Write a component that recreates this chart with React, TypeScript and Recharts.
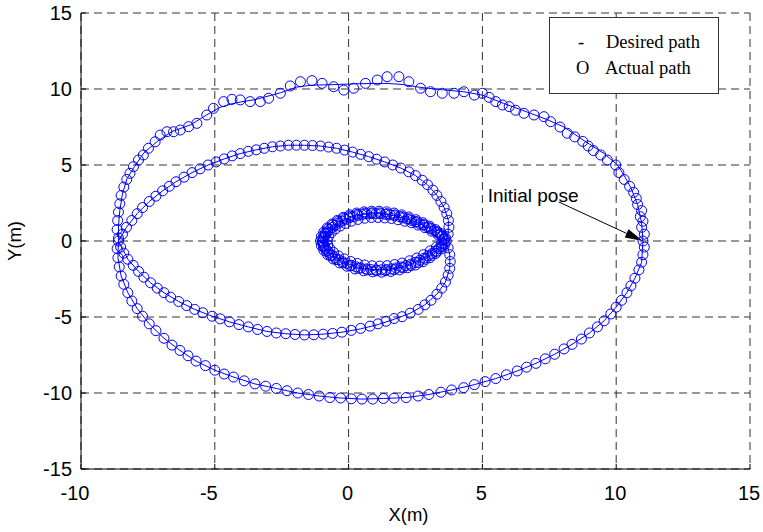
import { CartesianGrid, Legend, ReferenceLine, Scatter, ScatterChart, XAxis, YAxis } from "recharts";

type Pt = [number, number];

const xTicks = [-10, -5, 0, 5, 10, 15];
const yTicks = [-15, -10, -5, 0, 5, 10, 15];

// reference trajectory, one continuous pass: outer arc over the top, middle lobe,
// small inner loop, back along the middle lobe and the outer arc underneath
const desiredOuterTop: Pt[] = [
  [11, 0], [10.95, 1.2], [10.8, 2.4], [10.55, 3.5], [10.3, 4.3], [10.05, 5.0], [9.55, 5.75], [8.8, 6.6],
  [8.05, 7.5], [7.4, 8.0], [6.8, 8.4], [5.8, 9.05], [5.0, 9.6], [4.3, 9.82], [3.5, 9.95], [2.7, 10.1],
  [2.0, 10.3], [1.4, 10.37], [0.4, 10.35], [-0.7, 10.28], [-1.4, 10.25], [-1.95, 10.12], [-2.55, 9.75],
  [-3.5, 9.3], [-4.2, 9.1], [-4.8, 8.8], [-5.3, 8.3], [-5.9, 7.65], [-6.6, 7.2], [-7.15, 6.55], [-7.65, 5.8],
  [-8.0, 4.9], [-8.28, 4.1], [-8.45, 3.1], [-8.55, 2.0], [-8.6, 1.0], [-8.6, 0],
];
const desiredMiddleTop: Pt[] = [
  [-8.6, 0], [-8.3, 0.9], [-7.9, 1.8], [-7.45, 2.6], [-6.95, 3.3], [-6.45, 3.9], [-5.85, 4.5], [-5.25, 5.0],
  [-4.65, 5.4], [-4.05, 5.75], [-3.45, 6.0], [-2.85, 6.2], [-2.25, 6.3], [-1.65, 6.3], [-1.05, 6.25],
  [-0.45, 6.1], [0.15, 5.85], [0.75, 5.55], [1.35, 5.2], [1.95, 4.8], [2.5, 4.3], [2.95, 3.7], [3.3, 3.0],
  [3.57, 2.2], [3.73, 1.35], [3.72, 0.45], [3.65, 0],
];
const desiredInnerLoop: Pt[] = [
  [3.65, 0], [3.42, 0.42], [3.08, 0.8], [2.65, 1.15], [2.2, 1.44], [1.72, 1.66], [1.2, 1.79], [0.68, 1.78],
  [0.17, 1.6], [-0.25, 1.31], [-0.6, 0.9], [-0.85, 0.45], [-0.96, 0], [-0.87, -0.46], [-0.62, -0.94],
  [-0.22, -1.36], [0.28, -1.7], [0.84, -1.88], [1.41, -1.88], [1.96, -1.71], [2.5, -1.4], [2.97, -0.98],
  [3.36, -0.5], [3.65, 0],
];
const desiredMiddleBottom: Pt[] = [
  [3.65, 0], [3.78, -0.9], [3.78, -1.8], [3.62, -2.7], [3.3, -3.5], [2.85, -4.2], [2.3, -4.75], [1.7, -5.15],
  [1.1, -5.5], [0.45, -5.78], [-0.25, -6.0], [-0.95, -6.13], [-1.65, -6.18], [-2.35, -6.1], [-3.05, -5.95],
  [-3.75, -5.65], [-4.45, -5.32], [-5.1, -4.95], [-5.75, -4.5], [-6.35, -3.98], [-6.9, -3.4], [-7.4, -2.75],
  [-7.85, -2.0], [-8.25, -1.2], [-8.6, 0],
];
const desiredOuterBottom: Pt[] = [
  [-8.6, 0], [-8.62, -1.1], [-8.5, -2.3], [-8.25, -3.4], [-7.9, -4.45], [-7.45, -5.45], [-6.9, -6.4],
  [-6.3, -7.2], [-5.7, -7.9], [-5.0, -8.5], [-4.3, -8.95], [-3.5, -9.4], [-2.7, -9.7], [-1.9, -10.0],
  [-1.1, -10.2], [-0.3, -10.33], [0.5, -10.4], [1.3, -10.36], [2.15, -10.3], [3.0, -10.1], [3.85, -9.8],
  [4.7, -9.45], [5.5, -9.05], [6.3, -8.55], [7.0, -8.05], [7.7, -7.45], [8.35, -6.8], [9.0, -6.05],
  [9.55, -5.25], [10.0, -4.35], [10.4, -3.4], [10.7, -2.45], [10.95, -1.4], [11, 0],
];

// measured robot positions
const actualOuterTop: Pt[] = [
  [11.0, 0.0], [11.05, 0.45], [10.95, 0.9], [11.0, 1.3], [10.9, 1.6], [10.95, 2.0], [10.8, 2.4], [10.75, 2.8],
  [10.65, 3.2], [10.5, 3.6], [10.3, 4.05], [10.1, 4.5], [9.98, 5.0], [9.67, 5.33], [9.42, 5.66], [9.15, 5.95],
  [8.95, 6.25], [8.75, 6.55], [8.45, 6.85], [8.17, 7.09], [7.9, 7.5], [7.55, 7.85], [7.3, 8.18], [6.93, 8.29],
  [6.55, 8.4], [6.24, 8.6], [6.0, 8.84], [5.75, 8.95], [5.5, 9.17], [5.25, 9.45], [5.0, 9.72], [4.7, 9.6],
  [4.31, 9.82], [3.94, 9.72], [3.5, 9.72], [3.06, 9.82], [2.69, 10.05], [2.25, 10.48], [1.88, 10.81],
  [1.44, 10.81], [1.07, 10.59], [0.63, 10.37], [0.19, 10.05], [-0.18, 9.93], [-0.56, 10.15], [-0.99, 10.37],
  [-1.37, 10.55], [-1.8, 10.48], [-2.18, 10.2], [-2.55, 9.72], [-2.99, 9.39], [-3.3, 9.17], [-3.68, 9.17],
  [-4.05, 9.28], [-4.36, 9.32], [-4.67, 9.17], [-5.05, 8.73], [-5.3, 8.29], [-5.67, 7.74], [-5.98, 7.52],
  [-6.29, 7.3], [-6.54, 7.19], [-6.79, 7.19], [-7.04, 6.97], [-7.23, 6.53], [-7.48, 6.1], [-7.67, 5.66],
  [-7.85, 5.33], [-8.04, 4.89], [-8.17, 4.45], [-8.29, 4.05], [-8.4, 3.55], [-8.5, 3.0], [-8.55, 2.45],
  [-8.6, 1.9], [-8.63, 1.35], [-8.65, 0.75], [-8.6, 0.2],
];
const actualMiddleTop: Pt[] = [
  [-8.6, 0.0], [-8.45, 0.45], [-8.3, 0.9], [-8.1, 1.35], [-7.9, 1.8], [-7.7, 2.2], [-7.45, 2.6], [-7.2, 2.95],
  [-6.95, 3.3], [-6.7, 3.6], [-6.45, 3.9], [-6.15, 4.2], [-5.85, 4.5], [-5.55, 4.75], [-5.25, 5.0],
  [-4.95, 5.2], [-4.65, 5.4], [-4.35, 5.6], [-4.05, 5.75], [-3.75, 5.9], [-3.45, 6.0], [-3.15, 6.1],
  [-2.85, 6.2], [-2.55, 6.25], [-2.25, 6.3], [-1.95, 6.3], [-1.65, 6.3], [-1.35, 6.28], [-1.05, 6.25],
  [-0.75, 6.18], [-0.45, 6.1], [-0.15, 5.98], [0.15, 5.85], [0.45, 5.7], [0.75, 5.55], [1.05, 5.38],
  [1.35, 5.2], [1.65, 5.0], [1.95, 4.8], [2.25, 4.55], [2.5, 4.3], [2.75, 4.0], [2.95, 3.7], [3.15, 3.35],
  [3.3, 3.0], [3.45, 2.6], [3.57, 2.2], [3.67, 1.8], [3.73, 1.35], [3.75, 0.9], [3.72, 0.45], [3.65, 0.0],
];
// the inner loop is run several times, so its markers pile up into a thick ring
const actualInnerLoop: Pt[] = [
  [3.58, 0.15], [3.5, 0.3], [3.42, 0.42], [3.32, 0.55], [3.2, 0.68], [3.08, 0.8], [2.95, 0.92], [2.8, 1.04],
  [2.65, 1.15], [2.5, 1.25], [2.35, 1.35], [2.2, 1.44], [2.05, 1.52], [1.9, 1.6], [1.72, 1.66], [1.55, 1.72],
  [1.38, 1.76], [1.2, 1.79], [1.02, 1.8], [0.85, 1.8], [0.68, 1.78], [0.5, 1.74], [0.33, 1.68], [0.17, 1.6],
  [0.02, 1.52], [-0.12, 1.42], [-0.25, 1.31], [-0.38, 1.18], [-0.5, 1.04], [-0.6, 0.9], [-0.7, 0.75],
  [-0.78, 0.6], [-0.85, 0.45], [-0.9, 0.3], [-0.94, 0.15], [-0.96, 0.0], [-0.95, -0.15], [-0.92, -0.3],
  [-0.87, -0.46], [-0.8, -0.62], [-0.72, -0.78], [-0.62, -0.94], [-0.5, -1.09], [-0.37, -1.23],
  [-0.22, -1.36], [-0.06, -1.48], [0.1, -1.6], [0.28, -1.7], [0.46, -1.78], [0.65, -1.84], [0.84, -1.88],
  [1.03, -1.9], [1.22, -1.9], [1.41, -1.88], [1.6, -1.84], [1.78, -1.78], [1.96, -1.71], [2.14, -1.62],
  [2.32, -1.52], [2.5, -1.4], [2.66, -1.27], [2.82, -1.13], [2.97, -0.98], [3.11, -0.83], [3.24, -0.67],
  [3.36, -0.5], [3.47, -0.33], [3.57, -0.17],
  // tighter lap
  [3.55, 0.1], [3.35, 0.4], [3.1, 0.65], [2.85, 0.88], [2.6, 1.05], [2.35, 1.2], [2.1, 1.3], [1.85, 1.4],
  [1.6, 1.48], [1.35, 1.52], [1.1, 1.55], [0.85, 1.55], [0.6, 1.5], [0.35, 1.42], [0.1, 1.3], [-0.12, 1.15],
  [-0.32, 0.98], [-0.5, 0.78], [-0.65, 0.55], [-0.75, 0.3], [-0.8, 0.05], [-0.78, -0.25], [-0.7, -0.5],
  [-0.56, -0.75], [-0.38, -0.98], [-0.16, -1.18], [0.08, -1.35], [0.33, -1.48], [0.6, -1.58], [0.88, -1.63],
  [1.16, -1.65], [1.44, -1.62], [1.72, -1.55], [2.0, -1.45], [2.28, -1.3], [2.55, -1.12], [2.8, -0.9],
  [3.05, -0.65], [3.28, -0.4], [3.48, -0.15],
  // wider lap
  [3.62, 0.2], [3.45, 0.5], [3.25, 0.75], [3.02, 0.98], [2.78, 1.2], [2.52, 1.4], [2.25, 1.58], [1.98, 1.72],
  [1.7, 1.84], [1.42, 1.92], [1.14, 1.96], [0.86, 1.96], [0.58, 1.92], [0.3, 1.84], [0.04, 1.72], [-0.2, 1.56],
  [-0.42, 1.36], [-0.62, 1.12], [-0.8, 0.86], [-0.93, 0.58], [-1.02, 0.28], [-1.05, 0.0], [-1.02, -0.3],
  [-0.93, -0.6], [-0.78, -0.9], [-0.58, -1.18], [-0.34, -1.44], [-0.06, -1.66], [0.24, -1.84], [0.56, -1.96],
  [0.9, -2.03], [1.24, -2.05], [1.58, -2.0], [1.9, -1.9], [2.2, -1.76], [2.5, -1.58], [2.78, -1.36],
  [3.04, -1.1], [3.26, -0.82], [3.46, -0.52], [3.6, -0.22],
  // in-between lap
  [3.5, 0.35], [3.3, 0.62], [3.06, 0.86], [2.8, 1.08], [2.54, 1.28], [2.27, 1.46], [2.0, 1.6], [1.72, 1.72],
  [1.44, 1.8], [1.16, 1.85], [0.88, 1.86], [0.6, 1.83], [0.32, 1.76], [0.06, 1.64], [-0.18, 1.48],
  [-0.4, 1.28], [-0.6, 1.05], [-0.76, 0.8], [-0.88, 0.52], [-0.96, 0.22], [-0.98, -0.08], [-0.94, -0.38],
  [-0.84, -0.68], [-0.68, -0.96], [-0.47, -1.22], [-0.22, -1.45], [0.06, -1.64], [0.37, -1.79], [0.7, -1.9],
  [1.04, -1.96], [1.38, -1.95], [1.71, -1.88], [2.03, -1.77], [2.33, -1.62], [2.61, -1.43], [2.87, -1.2],
  [3.1, -0.95], [3.3, -0.68], [3.47, -0.4],
];
const actualMiddleBottom: Pt[] = [
  [3.72, -0.45], [3.78, -0.9], [3.8, -1.35], [3.78, -1.8], [3.72, -2.25], [3.62, -2.7], [3.48, -3.1],
  [3.3, -3.5], [3.08, -3.9], [2.85, -4.2], [2.6, -4.5], [2.3, -4.75], [2.0, -4.98], [1.7, -5.1], [1.4, -5.28],
  [1.1, -5.45], [0.8, -5.6], [0.45, -5.75], [0.1, -5.88], [-0.25, -6.0], [-0.6, -6.08], [-0.95, -6.13],
  [-1.3, -6.17], [-1.65, -6.18], [-2.0, -6.15], [-2.35, -6.1], [-2.7, -6.05], [-3.05, -5.95], [-3.4, -5.82],
  [-3.75, -5.65], [-4.1, -5.5], [-4.45, -5.32], [-4.8, -5.12], [-5.1, -4.95], [-5.45, -4.72], [-5.75, -4.5],
  [-6.05, -4.25], [-6.35, -3.98], [-6.65, -3.7], [-6.9, -3.4], [-7.15, -3.1], [-7.4, -2.75], [-7.65, -2.38],
  [-7.85, -2.0], [-8.05, -1.6], [-8.25, -1.2], [-8.4, -0.8], [-8.52, -0.4],
];
const actualOuterBottom: Pt[] = [
  [-8.65, -0.5], [-8.62, -1.1], [-8.57, -1.7], [-8.5, -2.3], [-8.4, -2.85], [-8.25, -3.4], [-8.1, -3.95],
  [-7.9, -4.45], [-7.7, -4.95], [-7.45, -5.45], [-7.2, -5.9], [-6.9, -6.4], [-6.6, -6.85], [-6.3, -7.2],
  [-6.0, -7.55], [-5.7, -7.9], [-5.35, -8.2], [-5.0, -8.5], [-4.65, -8.75], [-4.3, -8.95], [-3.9, -9.2],
  [-3.5, -9.4], [-3.1, -9.55], [-2.7, -9.7], [-2.3, -9.85], [-1.9, -10.0], [-1.5, -10.1], [-1.1, -10.2],
  [-0.7, -10.3], [-0.3, -10.33], [0.1, -10.38], [0.5, -10.4], [0.9, -10.4], [1.3, -10.36], [1.7, -10.34],
  [2.15, -10.3], [2.6, -10.2], [3.0, -10.1], [3.45, -9.95], [3.85, -9.8], [4.3, -9.65], [4.7, -9.45],
  [5.1, -9.25], [5.5, -9.05], [5.9, -8.8], [6.3, -8.55], [6.65, -8.3], [7.0, -8.05], [7.35, -7.75],
  [7.7, -7.45], [8.05, -7.1], [8.35, -6.8], [8.7, -6.45], [9.0, -6.05], [9.3, -5.65], [9.55, -5.25],
  [9.8, -4.8], [10.0, -4.35], [10.2, -3.9], [10.4, -3.4], [10.55, -2.95], [10.7, -2.45], [10.85, -1.9],
  [10.95, -1.4], [11.0, -0.9], [11.05, -0.4],
];

// where the "Initial pose" callout starts and where its arrow points
const poseLabelAt = { x: 7.85, y: 2.57 };
const initialPose = { x: 11, y: 0 };

const toPoints = (...parts: Pt[][]) => parts.flat().map(([x, y]) => ({ x, y }));

const desiredPath = toPoints(desiredOuterTop, desiredMiddleTop, desiredInnerLoop, desiredMiddleBottom, desiredOuterBottom);
const actualPath = toPoints(actualOuterTop, actualMiddleTop, actualInnerLoop, actualMiddleBottom, actualOuterBottom);

const BLUE = "#0000ff";
const SANS = "'Liberation Sans', Arial, Helvetica, sans-serif";
const SERIF = "'Liberation Serif', 'Times New Roman', serif";

function Ring(props: any) {
  const { cx, cy } = props;
  if (cx == null || cy == null) return <g />;
  return <circle cx={cx} cy={cy} r={5} fill="none" stroke={BLUE} strokeWidth={1} />;
}

function XTick({ x, y, payload }: any) {
  const v = payload.value;
  return (
    <text x={x} y={y} dx={v < 0 ? -6 : -1} dy="0.71em" textAnchor="middle" fill="#000" fontSize={20} fontFamily={SANS}>
      {v}
    </text>
  );
}

function YTick({ x, y, payload }: any) {
  return (
    <text x={x} y={y} dy="0.355em" textAnchor="end" fill="#000" fontSize={20} fontFamily={SANS}>
      {payload.value}
    </text>
  );
}

// callout text plus a line with a filled arrowhead
function PoseArrow(props: any) {
  const { x1, y1, x2, y2 } = props;
  if (x1 == null) return <g />;
  const a = Math.atan2(y2 - y1, x2 - x1);
  const len = 18;
  const half = 4.5;
  const bx = x2 - len * Math.cos(a);
  const by = y2 - len * Math.sin(a);
  const nx = -Math.sin(a) * half;
  const ny = Math.cos(a) * half;
  return (
    <g>
      <line x1={x1} y1={y1} x2={bx} y2={by} stroke="#000" strokeWidth={1} />
      <polygon points={`${x2},${y2} ${bx + nx},${by + ny} ${bx - nx},${by - ny}`} fill="#000" />
      <text x={x1 - 71} y={y1} fontSize={19} fontFamily={SANS} fill="#000">
        Initial pose
      </text>
    </g>
  );
}

function LegendBox() {
  return (
    <svg width={170} height={77} style={{ display: "block" }}>
      <rect x={0.5} y={0.5} width={169} height={76} fill="#fff" stroke="#333" />
      <g fontFamily={SERIF} fontSize={18.5} fill="#000">
        <text x={29} y={31}>-</text>
        <text x={57} y={31}>Desired path</text>
        <text x={27} y={57}>O</text>
        <text x={56} y={57}>Actual path</text>
      </g>
    </svg>
  );
}

export default function App() {
  return (
    <div style={{ position: "absolute", left: 0, top: 0, width: 763, height: 532, background: "#fff" }}>
      <ScatterChart width={763} height={532} margin={{ top: 13, right: 13, bottom: 0, left: 0 }}>
        <CartesianGrid stroke="#333" strokeDasharray="8 5" />
        <XAxis
          type="number"
          dataKey="x"
          domain={[-10, 15]}
          ticks={xTicks}
          allowDataOverflow
          height={63}
          axisLine={{ stroke: "#000" }}
          tickLine={{ stroke: "#000" }}
          tickSize={-5}
          tickMargin={22}
          tick={<XTick />}
          label={{
            content: ({ viewBox }: any) => (
              <text x={viewBox.x + viewBox.width / 2 - 7} y={viewBox.y + 52} textAnchor="middle" fontSize={18.5} fontFamily={SANS} fill="#000">
                X(m)
              </text>
            ),
          }}
        />
        <YAxis
          type="number"
          dataKey="y"
          domain={[-15, 15]}
          ticks={yTicks}
          allowDataOverflow
          width={81}
          axisLine={{ stroke: "#000" }}
          tickLine={{ stroke: "#000" }}
          tickSize={-5}
          tickMargin={14}
          tick={<YTick />}
          label={{
            content: ({ viewBox }: any) => {
              const lx = viewBox.x + 21;
              const ly = viewBox.y + viewBox.height / 2;
              return (
                <text x={lx} y={ly} transform={`rotate(-90, ${lx}, ${ly})`} textAnchor="middle" fontSize={18.5} fontFamily={SANS} fill="#000">
                  Y(m)
                </text>
              );
            },
          }}
        />
        <XAxis
          xAxisId="top"
          orientation="top"
          type="number"
          domain={[-10, 15]}
          ticks={xTicks}
          height={0}
          axisLine={{ stroke: "#000" }}
          tickLine={{ stroke: "#000" }}
          tickSize={-5}
          tick={false}
        />
        <YAxis
          yAxisId="right"
          orientation="right"
          type="number"
          domain={[-15, 15]}
          ticks={yTicks}
          width={0}
          axisLine={{ stroke: "#000" }}
          tickLine={{ stroke: "#000" }}
          tickSize={-5}
          tick={false}
        />
        <Legend
          layout="horizontal"
          verticalAlign="middle"
          align="center"
          wrapperStyle={{ left: 549, top: 17, width: 170, height: 77 }}
          content={() => <LegendBox />}
        />
        <Scatter
          name="Desired path"
          data={desiredPath}
          line={{ stroke: BLUE, strokeWidth: 1 }}
          shape={() => <g />}
          isAnimationActive={false}
        />
        <Scatter name="Actual path" data={actualPath} shape={<Ring />} isAnimationActive={false} />
        <ReferenceLine segment={[poseLabelAt, initialPose]} shape={<PoseArrow />} />
      </ScatterChart>
    </div>
  );
}
